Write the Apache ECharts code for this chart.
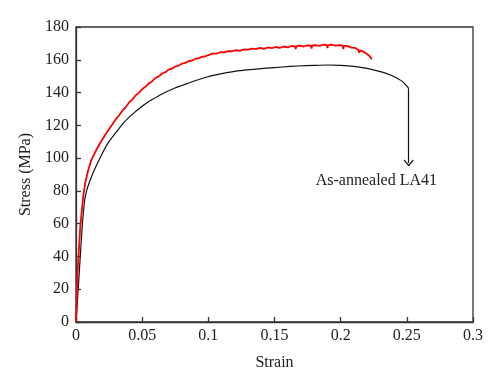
<!DOCTYPE html>
<html><head><meta charset="utf-8">
<script src="https://cdn.jsdelivr.net/npm/echarts@6/dist/echarts.min.js"></script>
<style>html,body{margin:0;padding:0;background:#fff}#c{width:500px;height:388px}</style>
</head><body><div id="c"></div>
<script>
const xTicks = [0, 0.05, 0.1, 0.15, 0.2, 0.25, 0.3];
const yTicks = [0, 20, 40, 60, 80, 100, 120, 140, 160, 180];
const annotationText = 'As-annealed LA41';
const arrowStart = [0.2514, 142.6];
const arrowEnd = [0.2514, 97];
const labelPoint = [0.227, 86];

const redStrain = [0,0.0012,0.0032,0.0055,0.007,0.009,0.0115,0.015,0.019,0.023,0.027,
0.0300,0.0325,0.0350,0.0375,0.0400,0.0425,0.0450,0.0475,0.0500,0.0525,0.0550,0.0575,0.0600,0.0625,0.0650,0.0675,0.0700,0.0725,0.0750,0.0775,0.0800,0.0825,0.0850,0.0875,0.0900,0.0925,0.0950,0.0975,0.1000,
0.1030,0.1060,0.1090,0.1120,0.1150,0.1180,0.1210,0.1240,0.1270,0.1300,0.1330,0.1360,0.1390,0.1420,0.1450,0.1480,0.1510,0.1540,0.1570,0.1600,0.1630,
0.1655,0.1660,0.1665,0.1690,0.1720,0.1750,0.1775,0.1780,0.1785,0.1810,0.1840,0.1870,0.1895,0.1900,0.1905,0.1930,0.1960,0.1990,0.2015,0.2020,0.2025,0.2050,0.2080,0.2110,0.2135,0.2140,0.2145,0.2170,0.2200,0.2220,0.2237];
const redStress = [0,30,58,77,85,92,98.5,104.5,110.3,115.3,120.0,
123.6,126.0,128.9,131.0,133.8,135.7,138.2,139.8,142.1,143.5,145.6,146.8,148.9,149.9,151.6,152.4,154.0,154.6,155.9,156.5,157.6,158.1,159.1,159.5,160.5,160.8,161.8,162.0,162.9,
163.7,163.8,164.6,164.5,165.3,165.2,165.9,165.5,166.4,166.2,166.8,166.5,167.2,166.6,167.5,167.1,167.8,167.3,168.1,167.6,168.4,
168.2,166.6,168.3,168.6,168.1,168.8,168.6,166.9,168.7,168.9,168.5,169.2,168.9,167.1,169.0,169.2,168.7,169.0,168.6,166.5,168.5,168.5,167.4,167.2,165.9,164.2,165.7,165.1,163.5,162.1,160.3];

const blackStrain = [0,0.002,0.0045,0.0065,0.008,0.01,0.014,0.019,0.024,0.03,0.0365,0.043,0.049,0.055,0.062,0.068,0.0743,0.08,0.09,0.099,0.11,0.12,0.132,0.144,0.156,0.168,0.18,0.19,0.2,0.21,0.22,0.23,0.2376,0.243,0.247,0.2514];
const blackStress = [0,24,56,74,80,85,93,101.5,109,115.5,122,127,131,134.5,137.8,140.3,142.6,144.3,147.2,149.5,151.5,152.9,154,154.9,155.6,156.2,156.6,156.8,156.6,156,154.8,152.8,150.7,148.6,146.5,142.6];

const zip = (a, b) => a.map((v, i) => [v, b[i]]);
const font = 'Liberation Serif';

const chart = echarts.init(document.getElementById('c'), null, {renderer: 'canvas'});
chart.setOption({
  animation: false,
  backgroundColor: '#fff',
  grid: {left: 76, right: 27, top: 27, bottom: 66, show: true, borderColor: '#333', borderWidth: 1.3, containLabel: false},
  xAxis: {
    type: 'value', min: 0, max: 0.3, interval: 0.05,
    name: 'Strain', nameLocation: 'middle', nameGap: 33,
    nameTextStyle: {fontFamily: font, fontSize: 16, color: '#222'},
    axisLine: {show: true, onZero: false, lineStyle: {color: '#333', width: 1.3}},
    axisTick: {show: true, inside: true, length: 5, lineStyle: {color: '#333', width: 1.3}},
    splitLine: {show: false},
    axisLabel: {fontFamily: font, fontSize: 16, color: '#222', margin: 6,
      formatter: v => { const t = xTicks.find(x => Math.abs(x - v) < 1e-9); return t === undefined ? '' : String(t); }}
  },
  yAxis: {
    type: 'value', min: 0, max: 180, interval: 20,
    name: 'Stress (MPa)', nameLocation: 'middle', nameGap: 40,
    nameTextStyle: {fontFamily: font, fontSize: 16, color: '#222'},
    axisLine: {show: true, onZero: false, lineStyle: {color: '#333', width: 1.3}},
    axisTick: {show: true, inside: true, length: 5, lineStyle: {color: '#333', width: 1.3}},
    splitLine: {show: false},
    axisLabel: {fontFamily: font, fontSize: 16, color: '#222', margin: 7,
      formatter: v => { const t = yTicks.find(y => Math.abs(y - v) < 1e-9); return t === undefined ? '' : String(t); }}
  },
  series: [
    {
      type: 'line', data: zip(blackStrain, blackStress), showSymbol: false, smooth: 0.3,
      lineStyle: {color: '#111', width: 1.2}, z: 2,
      markLine: {
        silent: true, animation: false,
        symbol: ['none', 'path://M0,7 L6,0 L12,7 L11,8 L6,2.2 L1,8 Z'], symbolSize: [10, 7],
        lineStyle: {color: '#111', width: 1.2, type: 'solid'},
        label: {show: false},
        data: [[{coord: arrowStart}, {coord: arrowEnd}]]
      },
      markPoint: {
        silent: true, symbol: 'circle', symbolSize: 0,
        label: {show: true, position: 'inside', formatter: annotationText, fontFamily: font, fontSize: 16, color: '#222'},
        data: [{coord: labelPoint}]
      }
    },
    {
      type: 'line', data: zip(redStrain, redStress), showSymbol: false,
      lineStyle: {color: '#ff0000', width: 1.8}, z: 3
    }
  ]
});
</script></body></html>
